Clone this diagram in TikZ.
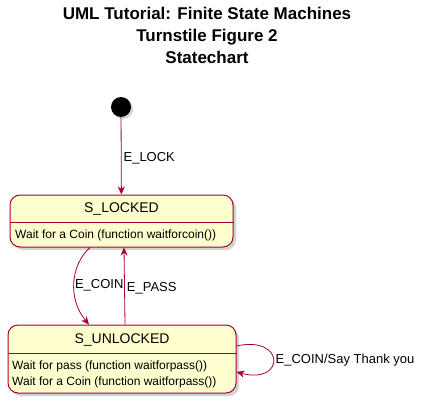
\documentclass[tikz,border=0pt]{standalone}
\usepackage{fontspec}
\setmainfont{Liberation Sans}
\usetikzlibrary{arrows.meta,shadows}
\definecolor{umlRed}{HTML}{A80036}
\definecolor{umlFill}{HTML}{FEFECE}
\tikzstyle{edge}=[->, >={Stealth[length=8pt,width=7pt,inset=2.5pt]}, draw=umlRed, line width=0.8pt]
\tikzstyle{edgeL}=[font=\fontsize{13}{15}\selectfont, inner sep=2pt]
\tikzstyle{stateV}=[rectangle, rounded corners=10pt, draw=umlRed, fill=umlFill, line width=1pt, drop shadow={shadow xshift=3pt, shadow yshift=-3pt, opacity=0.35, fill=gray}]
\tikzstyle{startV}=[circle, fill=black, minimum size=20pt, inner sep=0pt, drop shadow={shadow xshift=2pt, shadow yshift=-2pt, opacity=0.35, fill=gray}]
\tikzstyle{sepLine}=[draw=umlRed, line width=1pt]
\tikzstyle{nameT}=[font=\fontsize{14}{16}\selectfont]
\tikzstyle{bodyT}=[font=\fontsize{12}{16}\selectfont, align=left, anchor=west, inner sep=0pt]

\begin{document}
\begin{tikzpicture}[x=1pt, y=-1pt]
      \useasboundingbox (0,0) rectangle (427,406);
      \node(title) [align=center, font=\bfseries\fontsize{17}{22}\selectfont] at (207,35) {UML Tutorial: Finite State Machines\\Turnstile Figure 2\\Statechart};
      \node(0) [startV] at (121,107){};
      \node(1) [stateV, minimum width=223, minimum height=52] at (121.5,221){};
      \node(2) [stateV, minimum width=228, minimum height=68] at (122,359){};
      \draw[sepLine] ([yshift=-1pt]1.west) -- ([yshift=-1pt]1.east);
      \draw[sepLine] ([yshift=6pt]2.west) -- ([yshift=6pt]2.east);
      \node(1n) [nameT] at (121.5,209) {S\_LOCKED};
      \node(1b) [bodyT] at (15,235) {Wait for a Coin (function waitforcoin())};
      \node(2n) [nameT] at (122,340) {S\_UNLOCKED};
      \node(2b) [bodyT] at (12,374) {Wait for pass (function waitforpass())\\Wait for a Coin (function waitforpass())};
      \draw[edge] (0) to node[edgeL, right, yshift=-2pt] {E\_LOCK} (1);
      \draw[edge] ([xshift=-31.5pt]1.south) .. controls +(-20,18) and +(-21,-25) .. node[edgeL, right, inner sep=0.5pt, yshift=-2pt] {E\_COIN} ([xshift=-33pt]2.north);
      \draw[edge] ([xshift=3pt]2.north) to node[edgeL, right, yshift=-2pt] {E\_PASS} ([xshift=2.5pt]1.south);
      \draw[edge] ([yshift=13pt]2.east) .. controls +(49,-11) and +(49,13) .. node[edgeL, right] {E\_COIN/Say Thank you} ([yshift=-13pt]2.east);
    \end{tikzpicture}
\end{document}
